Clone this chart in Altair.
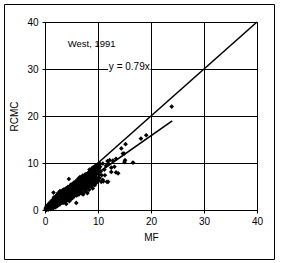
import altair as alt
import pandas as pd

# Scatter points (MF, RCMC)
mf = [
    0.1, 0.2, 0.3, 0.3, 0.4, 0.5, 0.5, 0.6, 0.7, 0.7, 0.8, 0.9, 0.9, 1.0, 1.0, 1.1, 1.1, 1.2, 1.2, 1.3,
    1.4, 1.4, 1.5, 1.5, 1.6, 1.6, 1.6, 1.7, 1.8, 1.8, 1.9, 1.9, 2.0, 2.0, 2.0,
    2.1, 2.1, 2.2, 2.2, 2.3, 2.3, 2.4, 2.4, 2.5, 2.5, 2.5, 2.6, 2.7, 2.7, 2.8, 2.8, 2.8, 2.9, 2.9,
    3.0, 3.0, 3.0, 3.1, 3.2, 3.2, 3.3, 3.3, 3.4, 3.4, 3.5, 3.5, 3.6, 3.6, 3.7, 3.7, 3.8, 3.8, 3.9,
    3.9, 4.0, 4.0, 4.0,
    4.1, 4.1, 4.2, 4.2, 4.3, 4.3, 4.4, 4.4, 4.5, 4.5, 4.5, 4.6, 4.6, 4.7, 4.7, 4.8, 4.8, 4.9, 4.9,
    5.0, 5.0, 5.0, 5.1, 5.2, 5.2, 5.3, 5.3, 5.4, 5.4, 5.5, 5.5, 5.6, 5.6, 5.7, 5.8, 5.8, 5.9, 5.9,
    6.0, 6.0, 6.0,
    6.1, 6.1, 6.2, 6.2, 6.3, 6.3, 6.4, 6.4, 6.5, 6.5, 6.6, 6.6, 6.7, 6.7, 6.8, 6.9, 6.9, 7.0, 7.0,
    7.1, 7.1, 7.2, 7.2, 7.3, 7.4, 7.4, 7.5, 7.5, 7.6, 7.6, 7.7, 7.8, 7.8, 7.9, 8.0, 8.0, 8.0,
    8.1, 8.1, 8.2, 8.3, 8.3, 8.4, 8.4, 8.5, 8.6, 8.6, 8.7, 8.8, 8.8, 8.9, 9.0, 9.0, 9.0, 9.1, 9.2,
    9.2, 9.3, 9.4, 9.4, 9.5, 9.5, 9.6, 9.7, 9.7, 9.8, 9.9, 10.0, 10.0, 10.0,
    10.2, 10.3, 10.4, 10.5, 10.6, 10.7, 10.9, 10.9, 11.0, 11.2, 11.3, 11.5, 11.7, 11.8, 11.9, 12.0,
    12.2, 12.5, 12.5, 12.8, 13.1, 13.4, 13.4, 13.8, 14.4, 14.7, 14.9, 15.0, 15.1, 15.2, 16.6, 18.1,
    19.1, 23.9,
    0.2, 0.4, 0.6, 0.8, 1.0, 1.2, 1.3, 1.5, 1.7, 1.7, 1.9, 2.1, 2.2, 2.3, 2.4, 2.6, 2.6, 2.7, 2.9,
    3.0, 3.1, 3.1, 3.2, 3.3, 3.4, 3.5, 3.6, 3.7, 3.8, 3.9, 4.0, 4.1, 4.2, 4.3, 4.4, 4.6, 4.7, 4.8,
    4.9, 5.0, 5.1, 5.1, 5.2, 5.3, 5.4, 5.5, 5.6, 5.7, 5.8, 5.9, 6.0, 6.1, 6.2, 6.3, 6.4, 6.5, 6.6,
    6.7, 6.8, 6.9, 7.0, 7.1, 7.2, 7.3, 7.4, 7.5, 7.6, 7.7, 7.8, 7.9, 8.0, 8.1, 8.2, 8.3, 8.4, 8.5,
    8.6, 8.7, 8.8, 8.9, 9.0, 9.1, 9.2, 9.3, 9.4, 9.5, 9.6, 9.7, 9.9, 10.0, 10.1, 10.2, 10.4,
]
rcmc = [
    0.2, 0.5, 0.1, 0.8, 0.4, 1.0, 0.2, 0.6, 1.2, 0.3, 0.8, 1.5, 0.5, 1.0, 0.2, 1.3, 0.7, 1.8, 0.4, 1.1,
    1.6, 0.6, 2.2, 1.0, 3.7, 1.4, 0.4, 2.0, 1.2, 2.6, 0.8, 1.7, 2.3, 1.3, 0.6,
    2.9, 1.8, 1.0, 2.4, 3.3, 1.6, 2.0, 0.9, 2.8, 3.6, 1.4, 2.3, 3.1, 1.8, 4.0, 2.6, 1.2, 3.4, 2.1,
    2.8, 1.6, 3.9, 2.4, 3.2, 1.9, 4.2, 2.7, 1.5, 3.6, 2.3, 3.0, 4.4, 2.0, 3.3, 2.6, 4.0, 1.8, 3.0,
    2.3, 3.7, 4.6, 1.3,
    2.7, 3.4, 4.2, 2.1, 3.1, 4.9, 3.7, 2.5, 6.6, 4.4, 3.2, 1.9, 3.9, 5.1, 2.8, 4.3, 3.5, 2.3, 5.4,
    4.0, 3.0, 4.7, 3.6, 5.3, 2.6, 4.3, 3.3, 5.8, 3.9, 4.8, 2.9, 4.2, 5.5, 3.5, 6.1, 4.6, 1.5, 3.9,
    5.2, 4.4, 3.1,
    6.3, 4.8, 3.6, 5.6, 4.2, 6.7, 5.0, 3.3, 5.9, 4.5, 7.0, 3.9, 5.3, 6.2, 4.7, 6.8, 3.6, 5.7, 4.3,
    7.3, 5.0, 6.4, 3.3, 5.4, 7.0, 4.6, 6.0, 3.9, 7.6, 5.2, 6.6, 4.4, 5.8, 7.2, 6.2, 4.9, 3.6,
    7.8, 5.5, 6.8, 4.3, 7.4, 8.6, 5.9, 6.5, 7.9, 5.0, 7.1, 8.8, 5.6, 6.3, 8.2, 4.6, 7.4, 9.1, 6.0,
    7.8, 8.7, 5.3, 6.9, 9.4, 8.0, 7.2, 5.8, 9.0, 8.4, 6.6, 9.6, 7.8, 6.2,
    8.9, 6.8, 9.8, 8.2, 6.0, 7.4, 9.9, 6.4, 6.1, 8.6, 7.4, 9.4, 6.0, 10.4, 6.0, 9.8,
    10.6, 8.1, 9.0, 10.5, 9.2, 10.9, 8.0, 7.8, 13.1, 12.0, 12.0, 10.2, 10.6, 14.0, 10.1, 15.2,
    15.9, 22.0,
    0.0, 0.9, 0.1, 1.4, 0.6, 1.0, 2.0, 0.5, 1.1, 2.7, 2.3, 1.3, 3.0, 2.1, 2.8, 1.7, 3.4, 2.4, 1.5,
    3.4, 1.9, 3.7, 2.6, 1.9, 3.0, 4.0, 2.8, 1.9, 3.5, 4.3, 2.9, 4.5, 3.6, 2.6, 4.1, 3.2, 4.6, 2.6,
    3.8, 5.0, 4.2, 2.8, 4.8, 3.7, 4.4, 5.2, 3.3, 4.8, 3.8, 5.6, 4.8, 3.8, 5.1, 5.8, 4.6, 6.4, 5.4,
    4.1, 5.9, 5.1, 6.6, 4.6, 5.8, 6.8, 5.1, 6.6, 4.4, 6.0, 7.2, 5.3, 6.8, 4.8, 7.6, 6.0, 7.2, 5.4,
    8.3, 6.4, 7.6, 8.6, 6.8, 5.4, 8.4, 7.2, 8.9, 6.4, 9.2, 7.8, 8.8, 8.6, 9.8, 7.6, 9.2,
]

# Lines: 1:1 line and fitted line y = 0.79x
line_x = [0, 40]
line_y = [0, 40]
fit_x = [0, 24]
fit_y = [0, 18.96]

# Annotations
note_text = ["West, 1991"]
note_x = [8.8]
note_y = [35.3]
eq_text = ["y = 0.79x"]
eq_x = [15.9]
eq_y = [30.5]

ticks = [0, 10, 20, 30, 40]

pts = pd.DataFrame({"MF": mf, "RCMC": rcmc})
one = pd.DataFrame({"MF": line_x, "RCMC": line_y})
fit = pd.DataFrame({"MF": fit_x, "RCMC": fit_y})
note = pd.DataFrame({"MF": note_x, "RCMC": note_y, "t": note_text})
eq = pd.DataFrame({"MF": eq_x, "RCMC": eq_y, "t": eq_text})

FONT = "Liberation Sans"

xscale = alt.Scale(domain=[0, 40], nice=False)
yscale = alt.Scale(domain=[0, 40], nice=False)

common = dict(values=ticks, grid=True, gridColor="#000000", gridOpacity=1, gridWidth=1,
              domainColor="#000000", domainWidth=1, tickColor="#000000", tickSize=3,
              tickWidth=1, labelFont=FONT, labelFontSize=10, labelColor="#000000",
              titleFont=FONT, titleFontSize=10, titleFontWeight="normal",
              titleColor="#000000", labelFlush=False)
xaxis = alt.Axis(title="MF", labelPadding=3, titlePadding=6, **common)
yaxis = alt.Axis(title="RCMC", labelPadding=4, titlePadding=7, **common)

base_pts = alt.Chart(pts).mark_point(shape="diamond", filled=True, color="black",
                                     size=22, opacity=1).encode(
    x=alt.X("MF:Q", scale=xscale, axis=xaxis),
    y=alt.Y("RCMC:Q", scale=yscale, axis=yaxis),
)

l1 = alt.Chart(one).mark_line(color="black", strokeWidth=1.6).encode(
    x=alt.X("MF:Q", scale=xscale), y=alt.Y("RCMC:Q", scale=yscale))
l2 = alt.Chart(fit).mark_line(color="black", strokeWidth=1.6).encode(
    x=alt.X("MF:Q", scale=xscale), y=alt.Y("RCMC:Q", scale=yscale))

note_mark = alt.Chart(note).mark_text(font=FONT, fontSize=9.5, color="black").encode(
    x=alt.X("MF:Q", scale=xscale), y=alt.Y("RCMC:Q", scale=yscale), text="t:N")

eq_mark = alt.Chart(eq).mark_text(font=FONT, fontSize=10, color="black").encode(
    x=alt.X("MF:Q", scale=xscale), y=alt.Y("RCMC:Q", scale=yscale), text="t:N")

# white box behind the equation label
box = alt.Chart(eq).transform_calculate(
    x1="datum.MF - 4.0", x2="datum.MF + 4.0", y1="datum.RCMC - 1.3", y2="datum.RCMC + 1.3"
).mark_rect(color="white").encode(
    x=alt.X("x1:Q", scale=xscale), x2="x2:Q",
    y=alt.Y("y1:Q", scale=yscale), y2="y2:Q")

frame = alt.Chart(note).mark_rect(fill="white", fillOpacity=0, stroke="black",
                                  strokeWidth=1).encode(
    x=alt.value(-40.5), x2=alt.value(229.5), y=alt.value(-17.5), y2=alt.value(237.5))

chart = alt.layer(base_pts, l1, l2, note_mark, box, eq_mark, frame).properties(
    width=212, height=188,
    autosize=alt.AutoSizeParams(type="none"),
    padding={"left": 45, "top": 22, "right": 24, "bottom": 53},
    background="white",
).configure_view(stroke="black")

chart.save("out.html", embed_options={"renderer": "svg", "actions": False})
